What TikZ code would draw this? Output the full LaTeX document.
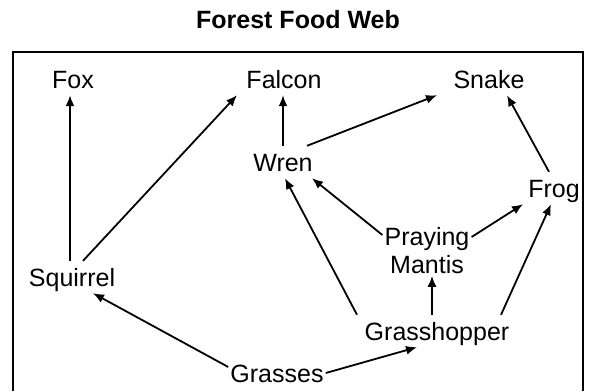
\documentclass[tikz,border=0pt]{standalone}
\usepackage{fontspec}
\setmainfont{Liberation Sans}
\usetikzlibrary{arrows.meta}

\begin{document}
\begin{tikzpicture}[x=1bp, y=-1bp,
  lbl/.style={font=\fontsize{25bp}{28bp}\selectfont, inner sep=2bp},
  animal/.style={lbl, text height=23bp, text depth=5bp, anchor=base},
  eats/.style={-{Latex[length=11bp,width=9bp]}, line width=1.8bp}]

  \useasboundingbox (0,0) rectangle (589,391);

  % Title and frame (open at the bottom)
  \node (title) [lbl, anchor=base, font=\fontsize{25bp}{28bp}\selectfont\bfseries] at (298,28) {Forest Food Web};
  \draw[line width=1.8bp] (13,391) -- (13,52) -- (583,52) -- (583,391);

  % Organisms
  \node (fox)   [animal] at (73,88)   {Fox};
  \node (fal)   [animal] at (284,88)  {Falcon};
  \node (snk)   [animal] at (489,88)  {Snake};
  \node (wren)  [animal] at (283,171) {Wren};
  \node (frog)  [animal] at (554,197) {Frog};
  \node (pm)    [lbl, align=center, anchor=north] at (427,225) {Praying\\Mantis};
  \node (sq)    [animal] at (72,286)  {Squirrel};
  \node (gh)    [animal] at (437,340) {Grasshopper};
  \node (gr)    [animal] at (277,382) {Grasses};

  % Energy flow (prey -> predator)
  \draw[eats] ([xshift=-2bp]sq.north) -- ([xshift=-2bp]sq.north |- fox.south);
  \draw[eats] ([xshift=11bp]sq.north) -- ([xshift=-47bp]fal.south);
  \draw[eats] (wren.north) -- (wren.north |- fal.south);
  \draw[eats] ([xshift=24bp]wren.north) -- ([xshift=-52bp]snk.south);
  \draw[eats] ([xshift=-5bp]frog.north) -- ([xshift=18bp]snk.south);
  \draw[eats] ([yshift=-10bp]pm.north west) -- ([xshift=29bp]wren.south);
  \draw[eats] ([yshift=-12bp]pm.north east) -- ([xshift=-31bp]frog.south);
  \draw[eats] ([xshift=-5bp]gh.north) -- ([xshift=-5bp]gh.north |- pm.south);
  \draw[eats] ([xshift=-80bp]gh.north) -- ([xshift=2bp]wren.south);
  \draw[eats] ([xshift=64bp]gh.north) -- ([xshift=-3bp]frog.south);
  \draw[eats] ([yshift=6bp]gr.west) -- ([xshift=21bp]sq.south);
  \draw[eats] (gr.east) -- ([xshift=-20bp]gh.south);

\end{tikzpicture}
\end{document}
